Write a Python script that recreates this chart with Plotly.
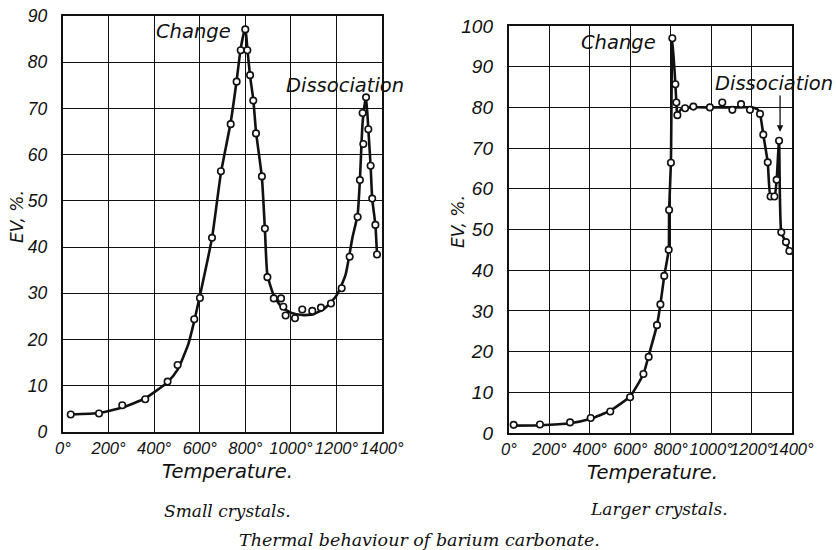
import plotly.graph_objects as go

# Small crystals: observed points (temperature in deg C, EV %)
small_t = [34, 158, 260, 361, 459, 503, 576, 601, 654, 693, 736, 762, 780, 800,
           809, 821, 835, 847, 873, 886, 897, 925, 957, 967, 977, 1018, 1050,
           1094, 1132, 1176, 1223, 1258, 1293, 1303, 1318, 1315, 1330, 1340,
           1350, 1357, 1371, 1378]
small_ev = [3.8, 4.0, 5.8, 7.1, 10.9, 14.5, 24.4, 29.0, 42.0, 56.4, 66.6, 75.8,
            82.6, 87.1, 82.6, 77.2, 71.7, 64.6, 55.3, 44.0, 33.5, 28.9, 28.9,
            27.1, 25.2, 24.6, 26.5, 26.2, 26.9, 27.8, 31.1, 37.9, 46.5, 54.5,
            62.3, 69.0, 72.4, 65.5, 57.6, 50.5, 44.8, 38.4]

# Small crystals: drawn curve
small_curve_t = [34, 158, 260, 361, 459, 503, 550, 576, 601, 654, 693, 736, 762,
                 780, 800, 809, 821, 835, 847, 873, 886, 897, 925, 960, 1000,
                 1050, 1100, 1150, 1200, 1240, 1270, 1293, 1303, 1315, 1330,
                 1340, 1350, 1357, 1371, 1378]
small_curve_ev = [3.8, 4.1, 5.3, 7.3, 10.8, 13.5, 19.0, 24.0, 29.5, 42.0, 56.0,
                  67.0, 76.0, 83.0, 87.5, 83.0, 77.0, 72.0, 65.0, 55.0, 44.0,
                  34.0, 29.5, 27.0, 25.8, 25.3, 25.5, 26.8, 29.5, 34.0, 42.0,
                  47.0, 54.5, 67.0, 72.5, 65.5, 57.6, 50.5, 44.8, 38.4]

# Larger crystals: observed points
large_t = [23, 153, 302, 404, 501, 599, 665, 691, 732, 749, 768, 790, 792, 801,
           808, 823, 828, 833, 871, 912, 994, 1055, 1105, 1148, 1192, 1242,
           1258, 1280, 1294, 1313, 1324, 1336, 1347, 1370, 1387]
large_ev = [2.0, 2.1, 2.6, 3.7, 5.3, 8.8, 14.5, 18.7, 26.5, 31.6, 38.6, 45.0,
            54.8, 66.4, 97.0, 85.7, 81.2, 78.1, 79.8, 80.2, 80.0, 81.2, 79.4,
            80.8, 79.4, 78.4, 73.3, 66.5, 58.1, 58.1, 62.2, 71.8, 49.3, 46.9,
            44.7]

# Larger crystals: drawn curve
large_curve_t = [23, 153, 302, 404, 501, 599, 665, 691, 732, 749, 768, 790, 792,
                 801, 808, 823, 828, 833, 850, 900, 1000, 1100, 1200, 1230,
                 1242, 1258, 1280, 1294, 1313, 1324, 1336, 1347, 1370, 1387]
large_curve_ev = [1.8, 1.9, 2.4, 3.5, 5.5, 9.0, 14.5, 19.0, 26.5, 31.6, 38.6,
                  45.0, 54.8, 66.4, 97.0, 85.7, 81.2, 78.1, 79.5, 80.0, 80.0,
                  80.0, 80.0, 79.5, 78.4, 73.3, 66.5, 58.1, 58.1, 62.2, 71.8,
                  49.3, 46.9, 44.7]

x_ticks = [0, 200, 400, 600, 800, 1000, 1200, 1400]
x_tick_text = [f"{v}°" for v in x_ticks]
small_y_ticks = list(range(0, 91, 10))
large_y_ticks = list(range(0, 101, 10))

WORD_FONT = "DejaVu Sans"
NUM_FONT = "Liberation Sans"
SERIF = "DejaVu Serif"
INK = "#111111"
W, H = 836, 550

fig = go.Figure()


def add_series(t_pts, ev_pts, t_curve, ev_curve, xa, ya):
    fig.add_trace(go.Scatter(
        x=t_curve, y=ev_curve, mode="lines", xaxis=xa, yaxis=ya,
        line=dict(color=INK, width=2.6, shape="spline", smoothing=0.5),
        hoverinfo="skip", showlegend=False))
    fig.add_trace(go.Scatter(
        x=t_pts, y=ev_pts, mode="markers", xaxis=xa, yaxis=ya,
        marker=dict(symbol="circle", size=6.5, color="white",
                    line=dict(color=INK, width=1.6)),
        showlegend=False))


add_series(small_t, small_ev, small_curve_t, small_curve_ev, "x", "y")
add_series(large_t, large_ev, large_curve_t, large_curve_ev, "x2", "y2")

xaxis_common = dict(
    range=[0, 1400], tickvals=x_ticks, ticktext=x_tick_text, tickangle=0,
    showgrid=True, gridcolor=INK, gridwidth=1.4, zeroline=False,
    showline=True, linecolor=INK, linewidth=2.4, mirror=True, ticks="",
    automargin=False, ticklabelstandoff=0,
    tickfont=dict(family=NUM_FONT, size=16.5, color=INK, style="italic"),
    fixedrange=True)
yaxis_common = dict(
    showgrid=True, gridcolor=INK, gridwidth=1.4, zeroline=False,
    showline=True, linecolor=INK, linewidth=2.4, mirror=True, ticks="",
    automargin=False, ticklabelstandoff=10,
    fixedrange=True)

fig.update_layout(
    template="none",
    width=W, height=H,
    margin=dict(l=0, r=0, t=0, b=0, pad=0),
    paper_bgcolor="white", plot_bgcolor="white",
    xaxis=dict(domain=[63 / W, 382 / W], anchor="y", **xaxis_common),
    yaxis=dict(domain=[1 - 432 / H, 1 - 16 / H], anchor="x", range=[0, 90],
               tickvals=small_y_ticks,
               tickfont=dict(family=NUM_FONT, size=17.5, color=INK,
                             style="italic"),
               **yaxis_common),
    xaxis2=dict(domain=[509 / W, 792 / W], anchor="y2", **xaxis_common),
    yaxis2=dict(domain=[1 - 433 / H, 1 - 26 / H], anchor="x2", range=[0, 100],
                tickvals=large_y_ticks,
                tickfont=dict(family=NUM_FONT, size=19, color=INK,
                              style="italic"),
                **yaxis_common),
)


def word(size):
    return dict(family=WORD_FONT, size=size, color=INK, style="italic")


def serif(size):
    return dict(family=SERIF, size=size, color=INK, style="italic")


# text placed by pixel position on the page
page_texts = [
    (193, 31, "Change", word(19.5), 0),
    (345, 85, "Dissociation", word(19.5), 0),
    (618, 43, "Change", word(19.5), 0),
    (774, 84, "Dissociation", word(19.5), 0),
    (17, 217, "EV, %.", word(17), -90),
    (458, 222, "EV, %.", word(17), -90),
    (227, 471, "Temperature.", word(19.5), 0),
    (652, 472, "Temperature.", word(19.5), 0),
    (227, 511, "Small crystals.", serif(17), 0),
    (659, 509, "Larger crystals.", serif(17), 0),
    (419, 540, "Thermal behaviour of barium carbonate.", serif(17.5), 0),
]

annotations = [
    dict(x=px / W, y=1 - py / H, xref="paper", yref="paper", text=txt,
         showarrow=False, font=fnt, textangle=ang,
         xanchor="center", yanchor="middle")
    for px, py, txt, fnt, ang in page_texts
]

# arrow pointing at the dissociation peak of the larger crystals
annotations.append(dict(
    x=1341, y=74.0, xref="x2", yref="y2", ax=1341, ay=83.3,
    axref="x2", ayref="y2", text="", showarrow=True, arrowhead=2,
    arrowsize=1, arrowwidth=1.3, arrowcolor=INK))

fig.update_layout(annotations=annotations)

fig.write_html("out.html")
